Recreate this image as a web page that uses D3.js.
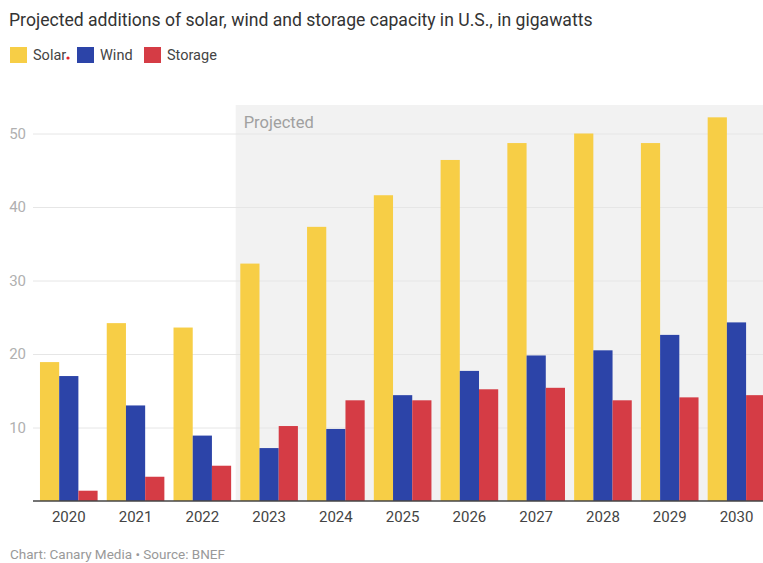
<!DOCTYPE html>
<html>
<head>
<meta charset="utf-8">
<script src="https://cdn.jsdelivr.net/npm/d3@7"></script>
<style>
  html, body { margin: 0; padding: 0; background: #fff; }
  svg { display: block; font-family: Roboto, "Noto Sans", sans-serif; }
</style>
</head>
<body>
<svg id="chart" width="763" height="563"></svg>
<script>
// Annual capacity additions, gigawatts
const years   = ["2020","2021","2022","2023","2024","2025","2026","2027","2028","2029","2030"];
const solar   = [18.9, 24.2, 23.6, 32.3, 37.3, 41.6, 46.4, 48.7, 50.0, 48.7, 52.2];
const wind    = [17.0, 13.0, 8.9, 7.2, 9.8, 14.4, 17.7, 19.8, 20.5, 22.6, 24.3];
const storage = [1.4, 3.3, 4.8, 10.2, 13.7, 13.7, 15.2, 15.4, 13.7, 14.1, 14.4];
const seriesNames = ["Solar", "Wind", "Storage"];
const seriesColors = ["#f7ce46", "#2c44a8", "#d53c45"];
const yTicks = [10, 20, 30, 40, 50];
const firstProjectedYear = "2023";

const svg = d3.select("#chart");
const W = 763, H = 563;
const plotLeft = 33, baseY = 501;

const x = d3.scaleBand()
  .domain(years)
  .range([35.4, 35.4 + 66.77 * years.length])
  .paddingInner(0.137)
  .paddingOuter(0.0685);

const xInner = d3.scaleBand()
  .domain(seriesNames)
  .range([0, x.bandwidth()]);

const y = d3.scaleLinear().domain([0, 50]).range([baseY, 133.5]);

// Shaded band behind the projected years
const projX = x(firstProjectedYear) - x.step() * x.paddingInner() / 2;
svg.append("rect")
  .attr("x", projX).attr("y", 105)
  .attr("width", W - projX).attr("height", baseY - 105)
  .attr("fill", "#f2f2f2");

svg.append("text")
  .attr("x", projX + 8).attr("y", 127.5)
  .attr("font-size", 16.5).attr("fill", "#a0a0a0")
  .text("Projected");

// Gridlines and y labels
const yAxis = d3.axisLeft(y).tickValues(yTicks).tickSize(-(W - plotLeft)).tickPadding(7);
const gy = svg.append("g").attr("transform", `translate(${plotLeft},0)`).call(yAxis);
gy.select(".domain").remove();
gy.selectAll(".tick line").attr("stroke", "#e6e6e6").attr("stroke-width", 1);
gy.selectAll(".tick text")
  .attr("fill", "#b0b0b0").attr("font-size", 15)
  .attr("font-family", "Roboto, sans-serif");

// Bars
const data = years.map((yr, i) => ({ year: yr, values: [solar[i], wind[i], storage[i]] }));
const groups = svg.append("g").selectAll("g.year")
  .data(data).join("g")
  .attr("class", "year")
  .attr("transform", d => `translate(${x(d.year)},0)`);

groups.selectAll("rect")
  .data(d => d.values.map((v, k) => ({ name: seriesNames[k], value: v, color: seriesColors[k] })))
  .join("rect")
  .attr("x", d => xInner(d.name))
  .attr("width", xInner.bandwidth())
  .attr("y", d => y(d.value))
  .attr("height", d => baseY - y(d.value))
  .attr("fill", d => d.color);

// Baseline and year labels
const xAxis = d3.axisBottom(x).tickSize(0).tickPadding(10);
const gx = svg.append("g").attr("transform", `translate(0,${baseY})`).call(xAxis);
gx.select(".domain").remove();
gx.selectAll(".tick text")
  .attr("fill", "#444").attr("font-size", 15)
  .attr("font-family", "Roboto, sans-serif");
svg.append("line")
  .attr("x1", plotLeft).attr("x2", W)
  .attr("y1", baseY).attr("y2", baseY)
  .attr("stroke", "#444").attr("stroke-width", 1.5);

// Title
svg.append("text")
  .attr("x", 9).attr("y", 26)
  .attr("font-size", 17.6).attr("fill", "#333")
  .text("Projected additions of solar, wind and storage capacity in U.S., in gigawatts");

// Legend
const legendX = [10, 77, 144];
const legend = svg.append("g").selectAll("g")
  .data(seriesNames).join("g")
  .attr("transform", (d, i) => `translate(${legendX[i]},47)`);
legend.append("rect")
  .attr("width", 17).attr("height", 16)
  .attr("fill", (d, i) => seriesColors[i]);
legend.append("text")
  .attr("x", 23).attr("y", 13)
  .attr("font-size", 14.5).attr("fill", "#444")
  .text(d => d);
svg.append("circle").attr("cx", 68).attr("cy", 58).attr("r", 1.6).attr("fill", "#e0202a");

// Footer
svg.append("text")
  .attr("x", 10).attr("y", 559)
  .attr("font-size", 13.5).attr("fill", "#999")
  .text("Chart: Canary Media \u2022 Source: BNEF");
</script>
</body>
</html>
